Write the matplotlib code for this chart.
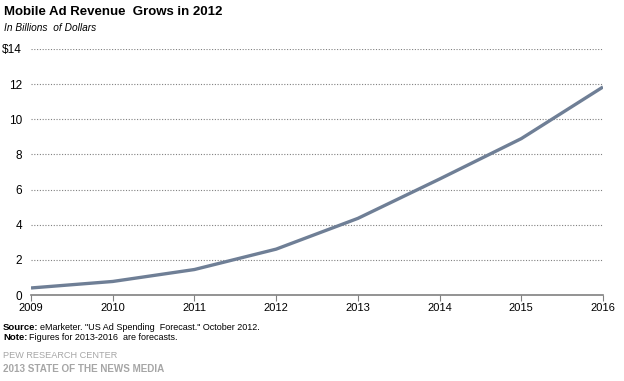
import matplotlib.pyplot as plt

plt.rcParams['font.family'] = ['Liberation Sans', 'DejaVu Sans']

years = [2009, 2010, 2011, 2012, 2013, 2014, 2015, 2016]
revenue = [0.4, 0.77, 1.45, 2.61, 4.36, 6.6, 8.9, 11.84]
yticks = [0, 2, 4, 6, 8, 10, 12, 14]
ytick_labels = ['0', '2', '4', '6', '8', '10', '12', '$14']

fig = plt.figure(figsize=(6.24, 3.81), dpi=100)
ax = fig.add_axes([31 / 624, 86 / 381, 572 / 624, 246 / 381])

ax.plot(years, revenue, color='#6f7f96', lw=2.4, solid_capstyle='butt', zorder=3)

ax.set_xlim(2009, 2016)
ax.set_ylim(0, 14)
ax.set_xticks(years)
ax.set_xticklabels([str(y) for y in years], fontsize=8)
ax.set_yticks(yticks)
ax.set_yticklabels(ytick_labels, fontsize=8.5)

for y in yticks[1:]:
    ax.axhline(y, color='#808080', lw=0.8, ls=(0, (1, 1.5)), zorder=1)

for s in ['top', 'right', 'left']:
    ax.spines[s].set_visible(False)
ax.spines['bottom'].set_color('#808080')
ax.spines['bottom'].set_linewidth(1.2)
ax.tick_params(axis='y', length=0, pad=6.5)
ax.tick_params(axis='x', direction='out', length=4, color='#808080', pad=2)

fig.text(4 / 624, 1 - 12 / 381, 'Mobile Ad Revenue  Grows in 2012', fontsize=9.5,
         fontweight='bold', va='center')
fig.text(4 / 624, 1 - 28 / 381, 'In Billions  of Dollars', fontsize=7.3,
         style='italic', va='center')

fig.text(3 / 624, 1 - 327 / 381, 'Source:', fontsize=6.8, fontweight='bold', va='center')
fig.text(40 / 624, 1 - 327 / 381,
         'eMarketer. "US Ad Spending  Forecast." October 2012.',
         fontsize=6.5, va='center')
fig.text(3 / 624, 1 - 338 / 381, 'Note:', fontsize=6.8, fontweight='bold', va='center')
fig.text(29 / 624, 1 - 338 / 381, 'Figures for 2013-2016  are forecasts.',
         fontsize=6.5, va='center')
fig.text(3 / 624, 1 - 355 / 381, 'PEW RESEARCH CENTER', fontsize=6.6,
         color='#a6a6a6', va='center')
fig.text(3 / 624, 1 - 369 / 381, '2013 STATE OF THE NEWS MEDIA', fontsize=7.1,
         color='#a6a6a6', fontweight='bold', va='center')

fig.savefig('out.png', dpi=100)
